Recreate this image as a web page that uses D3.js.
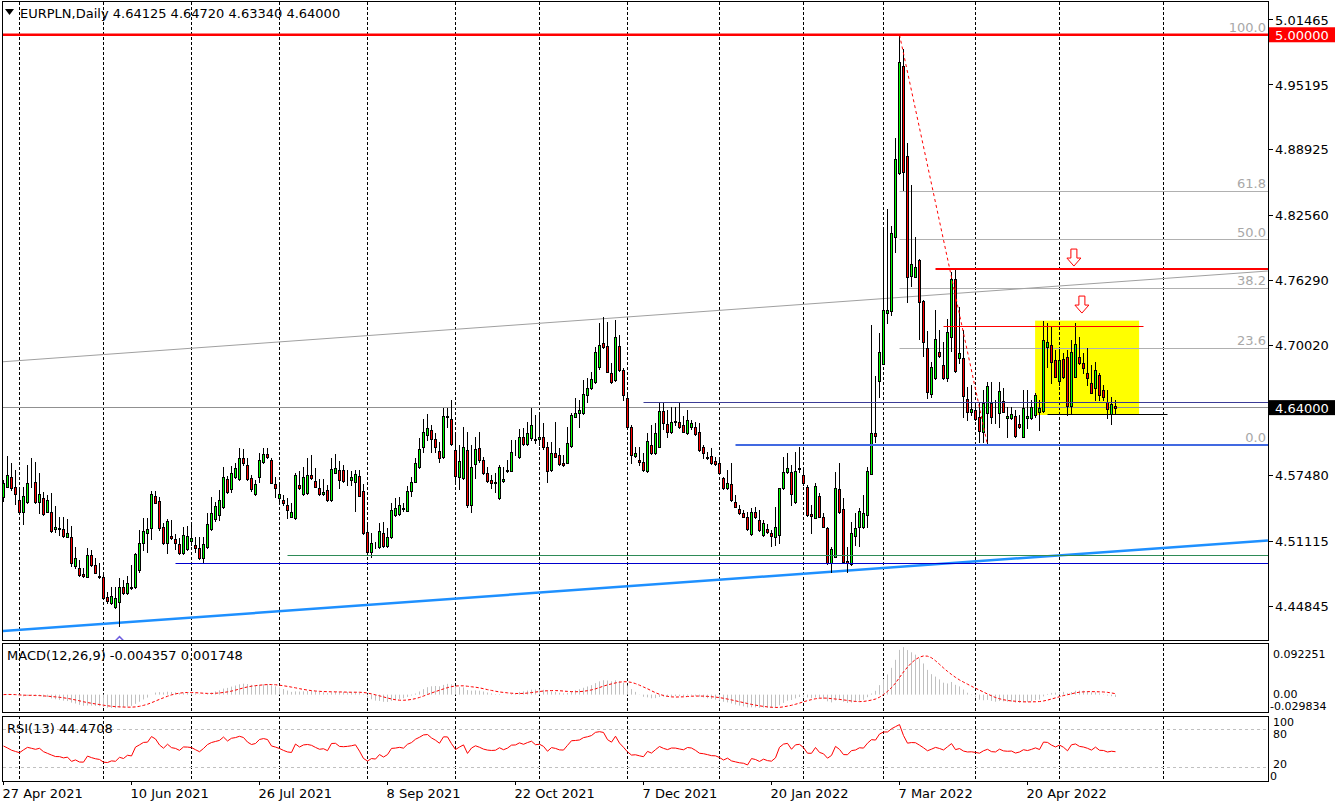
<!DOCTYPE html>
<html><head><meta charset="utf-8">
<script src="https://cdn.jsdelivr.net/npm/d3@7"></script>
<style>body{margin:0;background:#fff;}svg{display:block;font-family:"DejaVu Sans",Verdana,sans-serif;}</style>
</head><body><svg id="c" width="1340" height="807"></svg>
<script>
const openP=[4.5534,4.5637,4.5727,4.5637,4.5508,4.5396,4.5492,4.5660,4.5679,4.5492,
4.5525,4.5396,4.5396,4.5225,4.5232,4.5225,4.5154,4.5148,4.4871,4.4848,
4.4790,4.4768,4.4977,4.4881,4.4775,4.4762,4.4569,4.4511,4.4479,4.4527,
4.4672,4.4608,4.4656,4.4665,4.4833,4.5090,4.5193,4.5234,4.5546,4.5498,
4.5244,4.5089,4.5160,4.5128,4.5080,4.4993,4.5031,4.5115,4.5073,4.5041,
4.4951,4.5051,4.5228,4.5327,4.5363,4.5437,4.5707,4.5611,4.5727,4.5707,
4.5910,4.5846,4.5717,4.5563,4.5733,4.5878,4.5952,4.5894,4.5662,4.5530,
4.5508,4.5460,4.5346,4.5330,4.5652,4.5565,4.5572,4.5749,4.5694,4.5620,
4.5562,4.5604,4.5507,4.5771,4.5797,4.5797,4.5701,4.5701,4.5678,4.5739,
4.5594,4.5195,4.5002,4.5053,4.5050,4.5185,4.5063,4.5147,4.5363,4.5372,
4.5417,4.5404,4.5598,4.5685,4.5823,4.6016,4.6135,4.6184,4.6093,4.5984,
4.5926,4.6312,4.6287,4.5990,4.5726,4.5717,4.5990,4.5459,4.5855,4.6006,
4.5894,4.5765,4.5701,4.5668,4.5524,4.5694,4.5784,4.5791,4.5978,4.5920,
4.6113,4.6048,4.6103,4.6100,4.6093,4.6119,4.6023,4.5797,4.5958,4.5939,
4.5868,4.5868,4.6029,4.6313,4.6345,4.6345,4.6522,4.6586,4.6644,4.6789,
4.7021,4.6995,4.6731,4.6667,4.6995,4.6763,4.6490,4.6210,4.5936,4.5894,
4.5871,4.5788,4.6039,4.5958,4.6023,4.6367,4.6239,4.6161,4.6271,4.6264,
4.6232,4.6152,4.6210,4.6210,4.6161,4.6016,4.5926,4.5933,4.5885,4.5862,
4.5717,4.5621,4.5662,4.5492,4.5421,4.5379,4.5340,4.5176,4.5389,4.5315,
4.5170,4.5228,4.5186,4.5154,4.5170,4.5621,4.5782,4.5782,4.5492,4.5811,
4.5749,4.5630,4.5373,4.5337,4.5546,4.5340,4.5234,4.4896,4.4960,4.5611,
4.5418,4.4919,4.4892,4.5158,4.5244,4.5244,4.5365,4.5762,4.6158,4.6658,
4.6824,4.7314,4.7331,4.8045,4.8666,4.9699,4.8829,4.7673,4.7664,4.7825,
4.7429,4.6972,4.6527,4.6682,4.6933,4.6811,4.6682,4.7078,4.7638,4.6875,
4.6875,4.6479,4.6360,4.6376,4.6305,4.6167,4.6344,4.6440,4.6270,4.6344,
4.6467,4.6296,4.6296,4.6318,4.6241,4.6119,4.6296,4.6296,4.6328,4.6360,
4.6370,4.6982,4.7004,4.6859,4.6660,4.6866,4.6885,4.6415,4.6698,4.6892,
4.6827,4.6737,4.6634,4.6586,4.6715,4.6570,4.6450,4.6338,4.64125];
const highP=[4.5700,4.5933,4.5863,4.5798,4.5621,4.5637,4.5847,4.5911,4.5879,4.5773,
4.5589,4.5557,4.5573,4.5451,4.5348,4.5348,4.5322,4.5257,4.5058,4.4929,
4.4848,4.5042,4.5026,4.4945,4.4897,4.4817,4.4624,4.4672,4.4672,4.4752,
4.4736,4.4775,4.4881,4.4994,4.5219,4.5332,4.5332,4.5598,4.5598,4.5540,
4.5282,4.5321,4.5315,4.5176,4.5138,4.5250,4.5257,4.5273,4.5154,4.5154,
4.5154,4.5385,4.5540,4.5492,4.5604,4.5823,4.5740,4.5836,4.5862,4.6007,
4.5997,4.5910,4.5749,4.5701,4.5959,4.6007,4.6007,4.5910,4.5733,4.5653,
4.5556,4.5524,4.5475,4.5765,4.5791,4.5823,4.5910,4.5942,4.5813,4.5707,
4.5707,4.5652,4.5910,4.5952,4.5887,4.5846,4.5797,4.5791,4.5797,4.5797,
4.5662,4.5266,4.5185,4.5105,4.5282,4.5298,4.5234,4.5475,4.5524,4.5533,
4.5475,4.5643,4.5726,4.5910,4.6103,4.6287,4.6335,4.6232,4.6158,4.6071,
4.6393,4.6393,4.6473,4.6168,4.6039,4.6216,4.6168,4.6039,4.6119,4.6168,
4.5926,4.5823,4.5749,4.5771,4.5846,4.5823,4.5894,4.6087,4.6087,4.6190,
4.6200,4.6264,4.6393,4.6329,4.6345,4.6254,4.6071,4.6071,4.6264,4.6006,
4.5942,4.6216,4.6345,4.6490,4.6474,4.6667,4.6683,4.6747,4.6989,4.7214,
4.7279,4.7230,4.6828,4.7246,4.7102,4.6779,4.6538,4.6232,4.6016,4.6023,
4.5958,4.6152,4.6232,4.6248,4.6441,4.6441,4.6377,4.6409,4.6403,4.6441,
4.6319,4.6377,4.6280,4.6264,4.6248,4.6039,4.5974,4.6007,4.5926,4.5910,
4.5733,4.5798,4.5862,4.5556,4.5460,4.5411,4.5395,4.5427,4.5443,4.5411,
4.5315,4.5276,4.5218,4.5443,4.5627,4.5926,4.5959,4.5846,4.5975,4.6023,
4.5798,4.5653,4.5460,4.5669,4.5572,4.5379,4.5250,4.5057,4.5782,4.5862,
4.5524,4.5057,4.5296,4.5382,4.5434,4.5561,4.5831,4.7193,4.6710,4.7124,
4.8114,4.8321,4.8152,4.9005,5.0000,4.9860,4.8952,4.8549,4.8050,4.7831,
4.7435,4.7139,4.6843,4.7342,4.7149,4.7036,4.7252,4.7712,4.7728,4.7374,
4.7149,4.6601,4.6617,4.6440,4.6456,4.6569,4.6650,4.6650,4.6472,4.6650,
4.6586,4.6409,4.6409,4.6376,4.6328,4.6570,4.6570,4.6473,4.6537,4.6473,
4.7239,4.7214,4.7181,4.6956,4.6956,4.6924,4.6956,4.7053,4.7214,4.7085,
4.6924,4.6972,4.6811,4.6843,4.6731,4.6618,4.6570,4.6505,4.64720];
const lowP=[4.5502,4.5630,4.5605,4.5467,4.5390,4.5273,4.5483,4.5631,4.5483,4.5380,
4.5364,4.5390,4.5203,4.5203,4.5171,4.5154,4.5148,4.4871,4.4848,4.4778,
4.4768,4.4761,4.4871,4.4801,4.4759,4.4559,4.4511,4.4505,4.4463,4.4295,
4.4601,4.4601,4.4649,4.4659,4.4817,4.5026,4.5010,4.5128,4.5476,4.5218,
4.5083,4.5000,4.5128,4.5031,4.4986,4.4986,4.5025,4.5073,4.5009,4.4938,
4.4896,4.5044,4.5221,4.5308,4.5315,4.5431,4.5572,4.5588,4.5717,4.5701,
4.5846,4.5701,4.5598,4.5556,4.5685,4.5868,4.5910,4.5669,4.5540,4.5498,
4.5460,4.5331,4.5340,4.5324,4.5614,4.5559,4.5565,4.5707,4.5630,4.5556,
4.5556,4.5501,4.5501,4.5765,4.5620,4.5685,4.5652,4.5652,4.5404,4.5543,
4.5179,4.5002,4.4960,4.5047,4.5041,4.5057,4.5057,4.5137,4.5356,4.5366,
4.5404,4.5398,4.5546,4.5678,4.5817,4.5974,4.6087,4.5974,4.5974,4.5878,
4.5910,4.6216,4.6039,4.5675,4.5610,4.5707,4.5443,4.5395,4.5717,4.5878,
4.5759,4.5685,4.5620,4.5588,4.5517,4.5685,4.5778,4.5784,4.5942,4.5910,
4.6042,4.6039,4.6087,4.6055,4.6039,4.5997,4.5685,4.5791,4.5920,4.5846,
4.5836,4.5862,4.6023,4.6306,4.6216,4.6338,4.6458,4.6580,4.6638,4.6770,
4.6973,4.6741,4.6641,4.6660,4.6757,4.6474,4.6203,4.5868,4.5926,4.5846,
4.5791,4.5781,4.5952,4.5952,4.6016,4.6190,4.6113,4.6152,4.6232,4.6203,
4.6161,4.6145,4.6193,4.6136,4.5984,4.5910,4.5904,4.5856,4.5846,4.5756,
4.5611,4.5614,4.5501,4.5437,4.5373,4.5340,4.5218,4.5170,4.5331,4.5212,
4.5160,4.5186,4.5067,4.5073,4.5089,4.5611,4.5765,4.5460,4.5482,4.5782,
4.5653,4.5353,4.5186,4.5331,4.5340,4.5244,4.4890,4.4816,4.4954,4.5386,
4.4906,4.4816,4.4882,4.5071,4.5065,4.5237,4.5244,4.5755,4.6072,4.6503,
4.6817,4.7217,4.7297,4.7901,4.8660,4.8501,4.7422,4.7574,4.7657,4.7058,
4.6897,4.6489,4.6498,4.6675,4.6891,4.6675,4.6659,4.6949,4.6746,4.6827,
4.6311,4.6279,4.6328,4.6279,4.6070,4.6070,4.6038,4.6247,4.6247,4.6215,
4.6354,4.6119,4.6286,4.6119,4.6199,4.6112,4.6199,4.6289,4.6312,4.6183,
4.6360,4.6795,4.6634,4.6692,4.6618,4.6682,4.6328,4.6338,4.6692,4.6821,
4.6731,4.6618,4.6537,4.6473,4.6473,4.6473,4.6296,4.6241,4.63340];
const closeP=[4.5669,4.5750,4.5621,4.5563,4.5396,4.5547,4.5669,4.5665,4.5489,4.5566,
4.5370,4.5508,4.5212,4.5245,4.5241,4.5161,4.5186,4.4897,4.4945,4.4784,
4.4775,4.4977,4.4881,4.4807,4.4762,4.4566,4.4537,4.4585,4.4559,4.4672,
4.4608,4.4704,4.4672,4.4987,4.5090,4.5212,4.5225,4.5566,4.5482,4.5241,
4.5089,4.5308,4.5137,4.5096,4.4993,4.5166,4.5160,4.5137,4.5041,4.4944,
4.5080,4.5273,4.5385,4.5447,4.5508,4.5727,4.5582,4.5765,4.5814,4.5910,
4.5868,4.5707,4.5611,4.5662,4.5894,4.5952,4.5920,4.5675,4.5627,4.5566,
4.5482,4.5411,4.5388,4.5749,4.5620,4.5726,4.5749,4.5717,4.5636,4.5562,
4.5581,4.5507,4.5804,4.5813,4.5701,4.5691,4.5704,4.5726,4.5759,4.5549,
4.5185,4.5008,4.5089,4.5057,4.5208,4.5066,4.5153,4.5411,4.5427,4.5459,
4.5427,4.5598,4.5681,4.5868,4.5997,4.6168,4.6200,4.6093,4.6016,4.5910,
4.6319,4.6316,4.6045,4.5739,4.5884,4.6016,4.5459,4.5823,4.5997,4.5894,
4.5765,4.5694,4.5668,4.5681,4.5823,4.5707,4.5797,4.5974,4.5984,4.6113,
4.6048,4.6151,4.6232,4.6087,4.6113,4.6023,4.5791,4.5965,4.5926,4.5855,
4.5846,4.6061,4.6329,4.6345,4.6377,4.6528,4.6586,4.6673,4.6941,4.7005,
4.6982,4.6747,4.6651,4.7079,4.6763,4.6522,4.6210,4.5942,4.5958,4.5871,
4.5797,4.6081,4.5958,4.6158,4.6367,4.6248,4.6168,4.6264,4.6258,4.6210,
4.6168,4.6280,4.6255,4.6145,4.5991,4.5965,4.5916,4.5862,4.5852,4.5765,
4.5621,4.5675,4.5508,4.5443,4.5379,4.5347,4.5224,4.5395,4.5340,4.5218,
4.5282,4.5196,4.5163,4.5250,4.5621,4.5775,4.5814,4.5563,4.5788,4.5817,
4.5669,4.5363,4.5356,4.5643,4.5347,4.5250,4.4896,4.5035,4.5621,4.5395,
4.4912,4.4896,4.5192,4.5237,4.5406,4.5382,4.5786,4.6151,4.6124,4.6935,
4.7342,4.7342,4.8083,4.8798,4.9736,4.8678,4.7657,4.7783,4.7760,4.7422,
4.7036,4.6553,4.6788,4.7058,4.6901,4.6682,4.7126,4.7638,4.6756,4.6923,
4.6514,4.6360,4.6382,4.6286,4.6176,4.6440,4.6608,4.6311,4.6273,4.6559,
4.6360,4.6318,4.6335,4.6125,4.6209,4.6393,4.6318,4.6409,4.6521,4.6399,
4.7053,4.7030,4.6837,4.6698,4.6859,4.6698,4.6415,4.6933,4.7014,4.6827,
4.6779,4.6682,4.6544,4.6763,4.6521,4.6505,4.6386,4.6434,4.64000];

const dateLabels=["27 Apr 2021","10 Jun 2021","26 Jul 2021","8 Sep 2021","22 Oct 2021","7 Dec 2021","20 Jan 2022","7 Mar 2022","20 Apr 2022"];
const dateLabelBars=[0,32,64,96,128,160,192,224,256];
const monthGridBars=[4,25,47,69,91,113,134,156,179,200,220,243,264,290];
const priceTicks=[5.01465,4.95195,4.88925,4.82560,4.76290,4.70020,4.57480,4.51115,4.44845];
const fibLevels=[0,23.6,38.2,50,61.8,100];
const fibLabels=["0.0","23.6","38.2","50.0","61.8","100.0"];
const fibAnchors=[{bar:224,price:5.0},{bar:246,price:4.6039}];
const hLines=[
 {price:5.0000,from:-2,to:320,color:"#ff0000",w:2.5},
 {price:4.7739,from:233,to:320,color:"#ff0000",w:2},
 {price:4.7188,from:235,to:285,color:"#ff0000",w:1},
 {price:4.6452,from:160,to:320,color:"#3c3c96",w:1},
 {price:4.6336,from:261,to:291,color:"#000000",w:1},
 {price:4.6039,from:183,to:320,color:"#4169e1",w:2},
 {price:4.4968,from:71,to:320,color:"#2e8b57",w:1},
 {price:4.4897,from:43,to:320,color:"#0000cd",w:1}];
const trendLines=[
 {b1:-0.875,p1:4.6841,b2:316.1,p2:4.7719,color:"#a0a0a0",w:1},
 {b1:-0.875,p1:4.4241,b2:316.1,p2:4.5118,color:"#1e90ff",w:2.5}];
const rectZone={b1:257.9,b2:283.9,p1:4.7240,p2:4.6329};
const downArrows=[{bar:267.6,price:4.7767},{bar:269.6,price:4.7313}];
const macdAxisLabels=[{t:"0.092251",x:1273,y:658},{t:"0.00",x:1273,y:698},{t:"-0.029834",x:1270,y:710}];
const rsiAxisLabels=[{t:"100",x:1273,y:726},{t:"80",x:1273,y:738},{t:"20",x:1273,y:768},{t:"0",x:1270,y:780}];
// RSI values for the first 13 bars (before the 13-bar window is full)
const rsiFirstBars=[53.6,50.5,47,45,43.1,47.5,51.5,50,48.4,50,44.7,42,39.4];

// indicator lines derived from the close series (MACD 12,26,9 and RSI 13)
function ema(a,n){const k=2/(n+1);const r=[a[0]];for(let i=1;i<a.length;i++)r.push(a[i]*k+r[i-1]*(1-k));return r;}
const e12=ema(closeP,12),e26=ema(closeP,26);
const macdMain=closeP.map((c,i)=>e12[i]-e26[i]);
const macdSignal=macdMain.map((v,i)=>d3.mean(macdMain.slice(Math.max(0,i-8),i+1)));
function rsiCalc(c,n){const r=rsiFirstBars.slice();let g=0,l=0;for(let i=1;i<=n;i++){const d=c[i]-c[i-1];if(d>0)g+=d;else l-=d;}g/=n;l/=n;r[n]=100-100/(1+g/l);for(let i=n+1;i<c.length;i++){const d=c[i]-c[i-1];g=(g*(n-1)+Math.max(d,0))/n;l=(l*(n-1)+Math.max(-d,0))/n;r[i]=l===0?100:100-100/(1+g/l);}return r;}
const rsiVals=rsiCalc(closeP,13);

const svg=d3.select("#c");
const x=d3.scaleLinear().domain([0,316]).range([3.5,1267.5]);
const yP=d3.scaleLinear().domain([4.41565,5.03357]).range([640,0]);
const yM=d3.scaleLinear().domain([-0.029834,0.092251]).range([711,644]);
const yR=d3.scaleLinear().domain([0,100]).range([780,716.6]);
const cr=v=>Math.round(v-0.5)+0.5;
const FS="13px";

svg.append("rect").attr("width",1340).attr("height",807).attr("fill","#fff");
const defs=svg.append("defs");
defs.append("clipPath").attr("id","cm").append("rect").attr("x",3).attr("y",2).attr("width",1265).attr("height",638);
defs.append("clipPath").attr("id","cmacd").append("rect").attr("x",3).attr("y",644).attr("width",1265).attr("height",68);
defs.append("clipPath").attr("id","crsi").append("rect").attr("x",3).attr("y",717).attr("width",1265).attr("height",63);

const main=svg.append("g").attr("clip-path","url(#cm)");
main.append("rect").attr("x",x(rectZone.b1)).attr("y",yP(rectZone.p1)).attr("width",x(rectZone.b2)-x(rectZone.b1)).attr("height",yP(rectZone.p2)-yP(rectZone.p1)).attr("fill","#ffff00");
function grid(g,y1,y2){g.selectAll(null).data(monthGridBars).enter().append("line").attr("x1",d=>cr(x(d))).attr("x2",d=>cr(x(d))).attr("y1",y1).attr("y2",y2).attr("stroke","#000").attr("stroke-width",1).attr("stroke-dasharray","3,2");}
grid(main,2,640);
main.append("line").attr("x1",0).attr("x2",1268).attr("y1",cr(yP(closeP[closeP.length-1]))).attr("y2",cr(yP(closeP[closeP.length-1]))).attr("stroke","#909090");
const fp=l=>fibAnchors[1].price+(fibAnchors[0].price-fibAnchors[1].price)*l/100;
main.selectAll(null).data(fibLevels).enter().append("line").attr("x1",x(fibAnchors[0].bar)).attr("x2",1268).attr("y1",d=>cr(yP(fp(d)))).attr("y2",d=>cr(yP(fp(d)))).attr("stroke","#b0b0b0");
main.selectAll(null).data(trendLines).enter().append("line").attr("x1",d=>x(d.b1)).attr("x2",d=>x(d.b2)).attr("y1",d=>yP(d.p1)).attr("y2",d=>yP(d.p2)).attr("stroke",d=>d.color).attr("stroke-width",d=>d.w);
const idx=d3.range(closeP.length);
const cg=main.append("g");
cg.selectAll(null).data(idx).enter().append("line").attr("x1",i=>x(i)).attr("x2",i=>x(i)).attr("y1",i=>Math.round(yP(highP[i]))).attr("y2",i=>Math.round(yP(lowP[i]))+1).attr("stroke","#000");
cg.selectAll(null).data(idx).enter().append("rect")
 .attr("x",i=>x(i)-1).attr("width",2)
 .attr("y",i=>Math.round(yP(Math.max(openP[i],closeP[i])))+0.5)
 .attr("height",i=>Math.max(0,Math.round(yP(Math.min(openP[i],closeP[i])))-Math.round(yP(Math.max(openP[i],closeP[i])))))
 .attr("fill",i=>closeP[i]>=openP[i]?"#00ff00":"#ff0000").attr("stroke","#000").attr("stroke-width",1);
main.selectAll(null).data(hLines).enter().append("line").attr("x1",d=>x(d.from)).attr("x2",d=>x(d.to)).attr("y1",d=>d.w%2===1?cr(yP(d.price)):yP(d.price)).attr("y2",d=>d.w%2===1?cr(yP(d.price)):yP(d.price)).attr("stroke",d=>d.color).attr("stroke-width",d=>d.w);
main.append("line").attr("x1",x(fibAnchors[0].bar)).attr("y1",yP(fibAnchors[0].price)).attr("x2",x(fibAnchors[1].bar)).attr("y2",yP(fibAnchors[1].price)).attr("stroke","#ff0000").attr("stroke-dasharray","3,3");
main.selectAll(null).data(fibLevels).enter().append("text").attr("x",1266).attr("y",d=>yP(fp(d))-3).attr("text-anchor","end").attr("font-size",FS).attr("fill","#a8a8a8").text((d,i)=>fibLabels[i]);
main.selectAll(null).data(downArrows).enter().append("path").attr("d",d=>{const cx=x(d.bar),t=yP(d.price);return `M${cx-3},${t-17}H${cx+3}V${t-8}H${cx+7}L${cx},${t}L${cx-7},${t-8}H${cx-3}Z`;}).attr("fill","#fff").attr("stroke","#ff0000");
main.append("path").attr("d",()=>{const cx=x(29),t=yP(lowP[29])+11;return `M${cx-4.5},${t+4.5}L${cx},${t}L${cx+4.5},${t+4.5}`;}).attr("fill","none").attr("stroke","#7060e0").attr("stroke-width",1.5);

const mg=svg.append("g").attr("clip-path","url(#cmacd)");
grid(mg,643,712);
mg.selectAll(null).data(idx).enter().append("line").attr("x1",i=>x(i)).attr("x2",i=>x(i)).attr("y1",yM(0)).attr("y2",i=>yM(macdMain[i])).attr("stroke","#c0c0c0");
mg.append("path").datum(idx).attr("d",d3.line().x(i=>x(i)).y(i=>yM(macdSignal[i]))).attr("fill","none").attr("stroke","#ff0000").attr("stroke-dasharray","3,2");
const rg=svg.append("g").attr("clip-path","url(#crsi)");
grid(rg,716,781);
[80,20].forEach(v=>rg.append("line").attr("x1",3).attr("x2",1268).attr("y1",cr(yR(v))).attr("y2",cr(yR(v))).attr("stroke","#c0c0c0").attr("stroke-dasharray","3,3"));
rg.append("path").datum(idx).attr("d",d3.line().x(i=>x(i)).y(i=>yR(rsiVals[i]))).attr("fill","none").attr("stroke","#ff0000");

const frame=(y1,y2)=>svg.append("rect").attr("x",2.5).attr("y",y1).attr("width",1266).attr("height",y2-y1).attr("fill","none").attr("stroke","#000");
frame(1.5,640.5);frame(643.5,712.5);frame(716.5,781.5);

const ax=svg.append("g").attr("font-size",FS).attr("fill","#000");
ax.selectAll(null).data(priceTicks).enter().append("line").attr("x1",1268).attr("x2",1273).attr("y1",d=>cr(yP(d))).attr("y2",d=>cr(yP(d))).attr("stroke","#000");
ax.selectAll(null).data(priceTicks).enter().append("text").attr("x",1275).attr("y",d=>yP(d)+5).text(d=>d.toFixed(5));
[[5.0,"#ff0000"],[closeP[closeP.length-1],"#000"]].forEach(([v,c])=>{ax.append("rect").attr("x",1269).attr("y",yP(v)-7.5).attr("width",66).attr("height",15).attr("fill",c);ax.append("text").attr("x",1275).attr("y",yP(v)+5).attr("fill","#fff").text(v.toFixed(5));});
ax.selectAll(null).data(macdAxisLabels.concat(rsiAxisLabels)).enter().append("text").attr("x",d=>d.x).attr("y",d=>d.y).attr("font-size","11px").text(d=>d.t);
ax.selectAll(null).data(dateLabelBars).enter().append("text").attr("x",d=>x(d)-1).attr("y",798).text((d,i)=>dateLabels[i]);
ax.selectAll(null).data(dateLabelBars).enter().append("line").attr("x1",d=>cr(x(d))).attr("x2",d=>cr(x(d))).attr("y1",781).attr("y2",785).attr("stroke","#000");

svg.append("path").attr("d","M5,9H14L9.5,15Z").attr("fill","#000");
svg.append("text").attr("x",20).attr("y",18).attr("font-size",FS).text("EURPLN,Daily  4.64125 4.64720 4.63340 4.64000");
svg.append("text").attr("x",7).attr("y",660).attr("font-size",FS).text("MACD(12,26,9) -0.004357 0.001748");
svg.append("text").attr("x",7).attr("y",733).attr("font-size",FS).text("RSI(13) 44.4708");
</script></body></html>
